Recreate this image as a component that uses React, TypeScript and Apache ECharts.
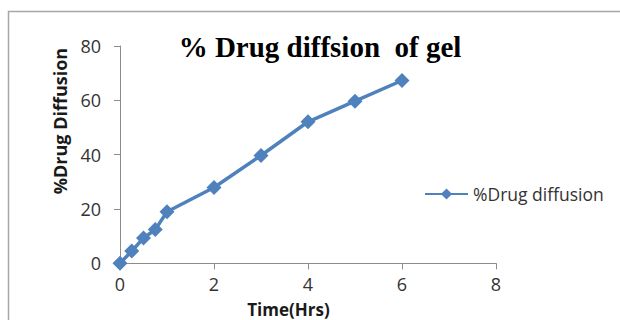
import React, { useEffect, useRef } from "react";
import * as echarts from "echarts";

const timeHrs = [0, 0.25, 0.5, 0.75, 1, 2, 3, 4, 5, 6];
const drugDiffusion = [0, 4.5, 9.3, 12.4, 19.0, 27.9, 39.7, 52.1, 59.7, 67.3];
const seriesName = "%Drug diffusion";
const titleText = "% Drug diffsion  of gel";
const yAxisName = "%Drug Diffusion";
const xAxisName = "Time(Hrs)";

export default function App() {
  const ref = useRef<HTMLDivElement>(null);
  useEffect(() => {
    if (!ref.current) return;
    const chart = echarts.init(ref.current, undefined, { renderer: "svg" });
    const axisColor = "#8c8c8c";
    const labelFont = { fontFamily: "Open Sans", fontSize: 18, color: "#333333" };
    chart.setOption({
      animation: false,
      backgroundColor: "#ffffff",
      grid: { left: 120, right: 124, top: 46, bottom: 56.7, containLabel: false },
      xAxis: {
        type: "value",
        min: 0,
        max: 8,
        interval: 2,
        axisLine: { show: true, lineStyle: { color: axisColor, width: 1 } },
        axisTick: { show: true, inside: false, length: 6, lineStyle: { color: axisColor } },
        axisLabel: { ...labelFont, margin: 12, lineHeight: 18 },
        splitLine: { show: false },
      },
      yAxis: {
        type: "value",
        min: 0,
        max: 80,
        interval: 20,
        axisLine: { show: true, lineStyle: { color: axisColor, width: 1 } },
        axisTick: { show: true, inside: false, length: 6, lineStyle: { color: axisColor } },
        axisLabel: { ...labelFont, margin: 19 },
        splitLine: { show: false },
      },
      legend: {
        show: true,
        left: 424,
        top: 185,
        padding: 0,
        itemWidth: 43,
        itemHeight: 14,
        textStyle: { fontFamily: "Open Sans", fontSize: 17.5, color: "#333333" },
        data: [seriesName],
      },
      series: [
        {
          name: seriesName,
          type: "line",
          data: timeHrs.map((t, i) => [t, drugDiffusion[i]]),
          symbol: "diamond",
          symbolSize: 15,
          showSymbol: true,
          lineStyle: { color: "#4f81bd", width: 3.5 },
          itemStyle: { color: "#4f81bd" },
          emphasis: { disabled: true },
        },
      ],
      graphic: [
        {
          type: "polyline",
          shape: { points: [[8.5, 330], [8.5, 11.5], [630, 11.5]] },
          style: { stroke: "#a6a6a6", lineWidth: 1.5, fill: "none" },
          silent: true,
        },
        {
          type: "text",
          x: 320,
          y: 46.5,
          style: {
            text: titleText,
            font: "bold 29px 'Liberation Serif'",
            fill: "#000000",
            textAlign: "center",
            textVerticalAlign: "middle",
          },
        },
        {
          type: "text",
          x: 60,
          y: 121,
          rotation: Math.PI / 2,
          style: {
            text: yAxisName,
            font: "bold 18px 'Open Sans'",
            fill: "#1a1a1a",
            textAlign: "center",
            textVerticalAlign: "middle",
          },
        },
        {
          type: "text",
          x: 288.5,
          y: 309,
          style: {
            text: xAxisName,
            font: "bold 17px 'Open Sans'",
            lineHeight: 17,
            fill: "#1a1a1a",
            textAlign: "center",
            textVerticalAlign: "middle",
          },
        },
      ],
    });
    return () => chart.dispose();
  }, []);
  return (
    <div
      ref={ref}
      style={{ position: "absolute", left: 0, top: 0, width: 620, height: 320 }}
    />
  );
}
